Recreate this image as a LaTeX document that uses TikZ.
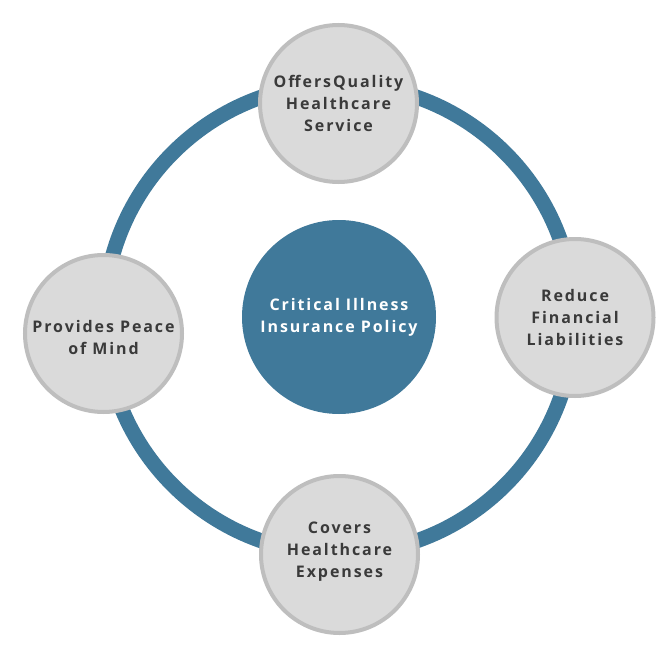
\documentclass[tikz,border=0pt]{standalone}
\usepackage{fontspec}
\setmainfont{Open Sans}
\definecolor{ringblue}{RGB}{64,121,154}
\definecolor{bubblefill}{RGB}{218,218,218}
\definecolor{bubbleedge}{RGB}{190,190,190}
\definecolor{bubbletext}{RGB}{58,58,58}
\begin{document}
\begin{tikzpicture}[x=1pt,y=-1pt,
  labeltext/.style={align=center,text=bubbletext,
    font=\bfseries\addfontfeature{LetterSpace=12}\fontsize{16pt}{22pt}\selectfont},
  ringline/.style={draw=ringblue,line width=15pt},
  bubble/.style={circle,fill=bubblefill,draw=bubbleedge,line width=4pt,minimum size=157pt,inner sep=0pt},
  hub/.style={circle,fill=ringblue,minimum size=194pt,inner sep=0pt,align=center,text=white,
    font=\bfseries\addfontfeature{LetterSpace=12}\fontsize{16pt}{22pt}\selectfont}]
\useasboundingbox (0,0) rectangle (672,650);
\fill[white] (0,0) rectangle (672,650);
\coordinate (ringc) at (339,319);
\draw[ringline] (ringc) circle[radius=235pt];
\node[hub] (hubnode) at (339,317) {Critical Illness\\Insurance Policy};
\node[bubble] (topb) at (338.5,103.5) {};
\node[bubble] (rightb) at (575,317.5) {};
\node[bubble] (leftb) at (103.5,333.5) {};
\node[bubble] (bottomb) at (339.5,554.5) {};
\node[labeltext] (toptext) at (topb) {OffersQuality\\Healthcare\\Service};
\node[labeltext] (righttext) at (rightb) {Reduce\\Financial\\Liabilities};
\node[labeltext] (lefttext) at (103.5,337.5) {Provides Peace\\of Mind};
\node[labeltext] (bottomtext) at (339.5,552) {Covers\\Healthcare\\Expenses};
\end{tikzpicture}
\end{document}
